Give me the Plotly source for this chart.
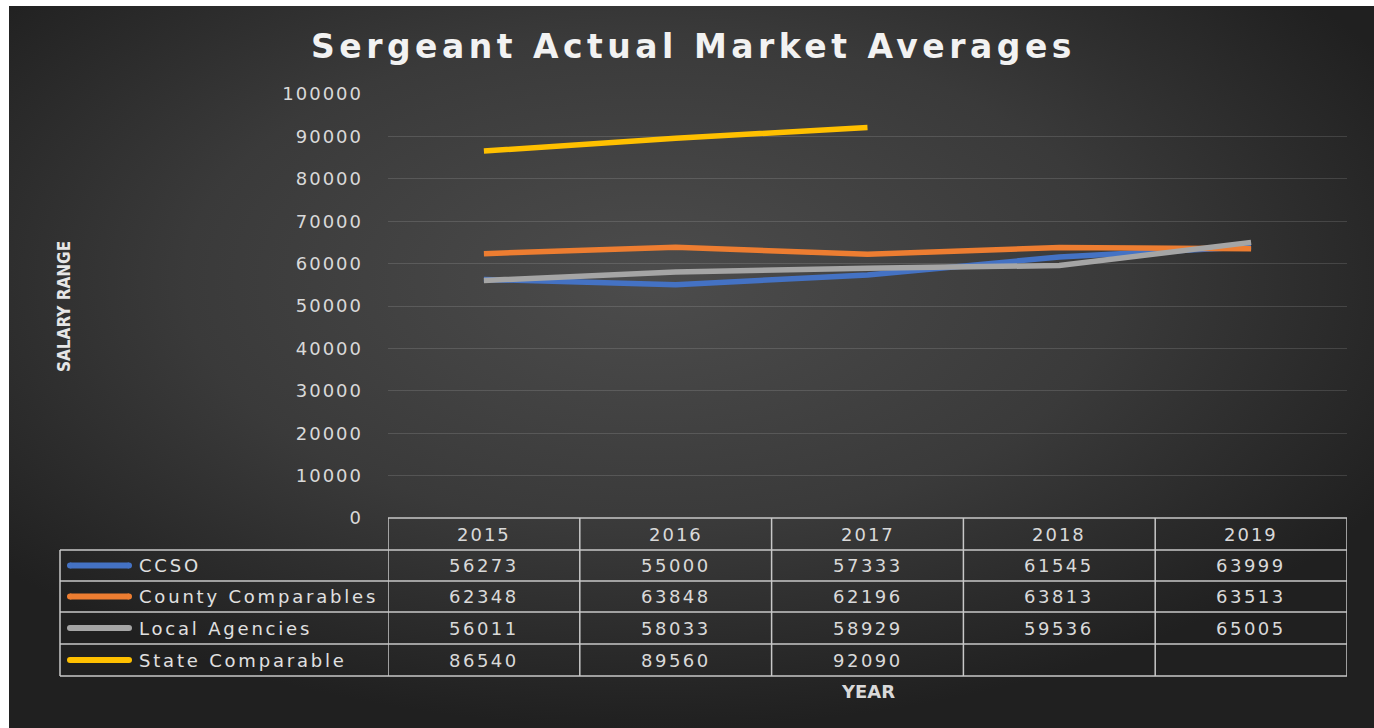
import base64
import plotly.graph_objects as go

years = ["2015", "2016", "2017", "2018", "2019"]
series_names = ["CCSO", "County Comparables", "Local Agencies", "State Comparable"]
ccso = [56273, 55000, 57333, 61545, 63999]
county = [62348, 63848, 62196, 63813, 63513]
local = [56011, 58033, 58929, 59536, 65005]
state = [86540, 89560, 92090, None, None]
colors = ["#4472C4", "#ED7D31", "#A5A5A5", "#FFC000"]
y_ticks = [0, 10000, 20000, 30000, 40000, 50000, 60000, 70000, 80000, 90000, 100000]

W, H = 1374, 728
L, R, T, B = 388, 1347, 94, 518  # plot area in pixels
PW, PH = R - L, B - T


def px(x):
    return (x - L) / PW


def py(y):
    return (B - y) / PH


def spaced(text, ls):
    return f'<span style="letter-spacing:{ls}px">{text}</span>'


values = [ccso, county, local, state]

fig = go.Figure()
for name, vals, col in zip(series_names, values, colors):
    fig.add_trace(go.Scatter(
        x=years, y=vals, name=name, mode="lines",
        line=dict(color=col, width=5.5), connectgaps=False,
        showlegend=False,
    ))

# background gradient
svg = '''<svg xmlns="http://www.w3.org/2000/svg" width="1365" height="722">
<defs><radialGradient id="g" cx="0.47" cy="0.38" r="0.62">
<stop offset="0" stop-color="#4c4c4c"/>
<stop offset="0.55" stop-color="#3a3a3a"/>
<stop offset="1" stop-color="#202020"/>
</radialGradient></defs>
<rect width="1365" height="722" fill="url(#g)"/></svg>'''
src = "data:image/svg+xml;base64," + base64.b64encode(svg.encode()).decode()

fig.add_layout_image(dict(
    source=src, xref="paper", yref="paper",
    x=px(9), y=py(6), sizex=(W - 9) / PW, sizey=(H - 6) / PH,
    xanchor="left", yanchor="top", sizing="stretch", layer="below",
))

shapes = []
anns = []
border = dict(color="#c8c8c8", width=1.5)

# table geometry (pixels)
header_top = 518
row_lines = [550, 581, 612, 644, 676]
row_centers = [534, 565.5, 596.5, 628, 660]
left_edge = 60

for k in range(len(years) + 1):
    shapes.append(dict(type="line", xref="x", yref="paper",
                       x0=k - 0.5, x1=k - 0.5, y0=py(header_top), y1=py(row_lines[-1]),
                       line=border))
shapes.append(dict(type="line", xref="paper", yref="paper",
                   x0=px(left_edge), x1=px(left_edge), y0=py(row_lines[0]), y1=py(row_lines[-1]),
                   line=border))
shapes.append(dict(type="line", xref="paper", yref="paper",
                   x0=0, x1=1, y0=py(header_top), y1=py(header_top), line=border))
for yl in row_lines:
    shapes.append(dict(type="line", xref="paper", yref="paper",
                       x0=px(left_edge), x1=1, y0=py(yl), y1=py(yl), line=border))

cell_font = dict(family="DejaVu Sans", size=18, color="#d9d9d9")

for i, yr in enumerate(years):
    anns.append(dict(xref="x", yref="paper", x=i, y=py(row_centers[0]), text=spaced(yr, 2),
                     showarrow=False, font=cell_font, xanchor="center", yanchor="middle"))

for r, (name, vals, col) in enumerate(zip(series_names, values, colors)):
    yc = row_centers[r + 1]
    shapes.append(dict(type="line", xref="paper", yref="paper",
                       x0=px(70), x1=px(129), y0=py(yc), y1=py(yc),
                       line=dict(color=col, width=6)))
    for cx in (70, 129):
        shapes.append(dict(type="circle", xref="paper", yref="paper",
                           x0=px(cx - 3), x1=px(cx + 3), y0=py(yc + 3), y1=py(yc - 3),
                           fillcolor=col, line=dict(width=0)))
    anns.append(dict(xref="paper", yref="paper", x=px(137), y=py(yc), text=spaced(name, 2.8),
                     showarrow=False, font=dict(family="DejaVu Sans", size=18, color="#e0e0e0"),
                     xanchor="left", yanchor="middle"))
    for i, v in enumerate(vals):
        if v is None:
            continue
        anns.append(dict(xref="x", yref="paper", x=i, y=py(yc), text=spaced(str(v), 2.5),
                         showarrow=False, font=cell_font, xanchor="center", yanchor="middle"))

# title
anns.append(dict(xref="paper", yref="paper", x=px(693), y=py(46),
                 text="<b>" + spaced("Sergeant Actual Market Averages", 4.5) + "</b>", showarrow=False,
                 font=dict(family="DejaVu Sans", size=33, color="#f2f2f2"),
                 xanchor="center", yanchor="middle"))
# axis titles
anns.append(dict(xref="paper", yref="paper", x=px((L + R) / 2), y=py(691),
                 text="<b>YEAR</b>", showarrow=False,
                 font=dict(family="DejaVu Sans", size=18, color="#d9d9d9"),
                 xanchor="center", yanchor="middle"))
anns.append(dict(xref="paper", yref="paper", x=px(64), y=py(307),
                 text="<b>SALARY RANGE</b>", showarrow=False, textangle=-90,
                 font=dict(family="DejaVu Sans Condensed", size=17, color="#e6e6e6"),
                 xanchor="center", yanchor="middle"))

fig.update_layout(
    width=W, height=H,
    margin=dict(l=L, r=W - R, t=T, b=H - B, pad=0),
    paper_bgcolor="white", plot_bgcolor="rgba(0,0,0,0)",
    shapes=shapes, annotations=anns,
    xaxis=dict(type="category", range=[-0.5, 4.5], showticklabels=False,
               showgrid=False, zeroline=False, showline=False, fixedrange=True),
    yaxis=dict(range=[0, 100000], tickvals=y_ticks, ticktext=[spaced(str(v), 2) for v in y_ticks],
               showgrid=True, gridcolor="rgba(255,255,255,0.13)", gridwidth=1,
               zeroline=False, showline=False, ticks="", ticklabelstandoff=24,
               tickfont=dict(family="DejaVu Sans", size=18, color="#d9d9d9"), fixedrange=True),
    showlegend=False,
)

fig.write_html("out.html", config={"displayModeBar": False},
               post_script="document.body.style.margin='0px';")
